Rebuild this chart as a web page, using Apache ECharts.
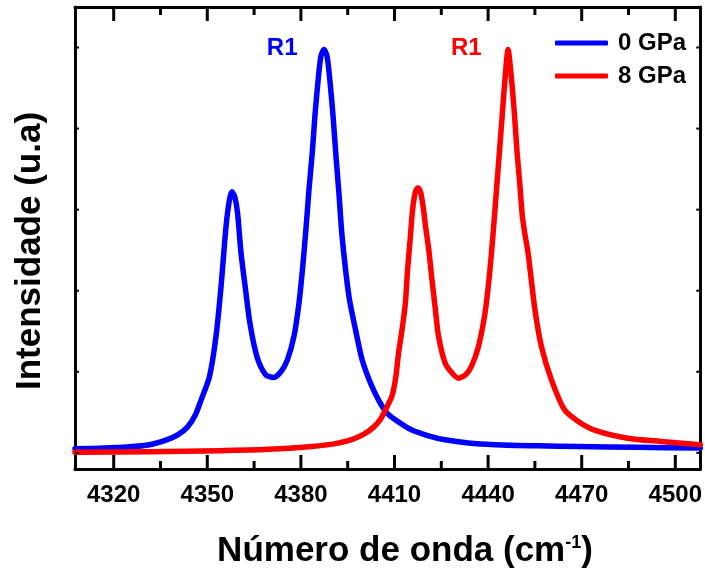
<!DOCTYPE html>
<html>
<head>
<meta charset="utf-8">
<script src="https://cdn.jsdelivr.net/npm/echarts@6/dist/echarts.min.js"></script>
<style>
  html, body { margin: 0; padding: 0; background: #fff; }
  #chart { width: 705px; height: 574px; }
</style>
</head>
<body>
<div id="chart"></div>
<script>
// R-line spectra at two pressures
const seriesNames = ['0 GPa', '8 GPa'];

const waveNumber0 = [4307.6, 4315.6, 4325.2, 4331.5, 4336.3, 4340.5, 4343.7, 4346.2, 4348.0, 4350.7,
  4352.8, 4354.4, 4356.0, 4357.1, 4357.9, 4358.8, 4359.7, 4360.8, 4362.4, 4363.5,
  4365.1, 4366.6, 4368.8, 4371.2, 4373.6, 4375.7, 4377.8, 4379.4, 4380.5, 4381.6,
  4382.6, 4383.7, 4384.5, 4385.5, 4386.4, 4387.4, 4388.4, 4389.3, 4390.3, 4391.2,
  4392.2, 4393.2, 4395.4, 4397.5, 4399.6, 4402.3, 4404.9, 4407.6, 4411.3, 4415.6,
  4420.9, 4426.2, 4433.7, 4442.2, 4456.0, 4468.8, 4487.9, 4508.0];
const intensity0 = [0.05, 0.056, 0.074, 0.10, 0.15, 0.22, 0.32, 0.47, 0.65, 0.94,
  1.44, 2.05, 2.79, 3.12, 3.22, 3.16, 2.96, 2.47, 1.97, 1.64,
  1.31, 1.11, 0.96, 0.93, 1.00, 1.15, 1.44, 1.85, 2.26, 2.75,
  3.25, 3.73, 4.16, 4.59, 4.89, 4.975, 4.89, 4.59, 4.16, 3.68,
  3.20, 2.67, 1.93, 1.52, 1.15, 0.86, 0.65, 0.49, 0.38, 0.28,
  0.21, 0.16, 0.12, 0.10, 0.086, 0.078, 0.068, 0.058];

const waveNumber8 = [4307.6, 4331.5, 4353.9, 4369.8, 4382.6, 4390.6, 4396.0, 4400.2, 4403.4, 4405.6,
  4407.5, 4409.2, 4410.4, 4411.3, 4412.5, 4413.5, 4414.2, 4415.1, 4415.8, 4416.7,
  4417.5, 4418.4, 4419.2, 4420.0, 4421.0, 4422.0, 4423.1, 4424.1, 4426.2, 4428.3,
  4430.5, 4432.7, 4434.7, 4436.9, 4439.0, 4440.1, 4441.1, 4442.0, 4442.7, 4443.6,
  4444.6, 4445.5, 4446.4, 4447.4, 4448.4, 4449.3, 4450.2, 4450.9, 4451.7, 4452.8,
  4455.0, 4457.1, 4460.3, 4464.5, 4468.8, 4474.1, 4484.7, 4495.4, 4508.0];
const intensity8 = [0.006, 0.012, 0.025, 0.043, 0.074, 0.11, 0.16, 0.23, 0.32, 0.42,
  0.56, 0.70, 0.93, 1.23, 1.54, 1.85, 2.26, 2.67, 3.00, 3.22,
  3.27, 3.21, 3.03, 2.78, 2.50, 2.14, 1.77, 1.44, 1.11, 0.99,
  0.92, 0.96, 1.07, 1.31, 1.72, 2.07, 2.47, 2.90, 3.25, 3.70,
  4.20, 4.65, 4.975, 4.65, 4.20, 3.70, 3.30, 2.95, 2.72, 2.47,
  1.77, 1.31, 0.90, 0.53, 0.39, 0.28, 0.18, 0.14, 0.10];

// Peak annotations (wavenumber, intensity)
const peakLabelText = ['R1', 'R1'];
const peakLabelX = [4374, 4433];
const peakLabelY = [4.99, 4.99];

// Axis ticks
const xMajorTicks = [4320, 4350, 4380, 4410, 4440, 4470, 4500];
const xMinorTicks = [4335, 4365, 4395, 4425, 4455, 4485];
const yTicks = [0, 1, 2, 3, 4, 5];

const X_MIN = 4307.6, X_MAX = 4508;
const Y_MIN = -0.2, Y_MAX = 5.5;
const colors = ['#0000ff', '#ff0000'];
const FONT = '"Liberation Sans", Arial, sans-serif';

function zip(xs, ys) { return xs.map((x, i) => [x, ys[i]]); }

function frameAxis(type, position, withLabels) {
  const range = type === 'x' ? { min: X_MIN, max: X_MAX } : { min: Y_MIN, max: Y_MAX };
  return Object.assign({
    type: 'value', position: position,
    axisLine: { show: true, onZero: false, lineStyle: { color: '#000', width: 3 } },
    axisTick: { show: false },
    axisLabel: withLabels ? {
      show: true, customValues: xMajorTicks, margin: 14,
      formatter: v => String(v),
      color: '#000', fontFamily: FONT, fontWeight: 'bold', fontSize: 24
    } : { show: false },
    splitLine: { show: false }
  }, range);
}

const chart = echarts.init(document.getElementById('chart'), null, { renderer: 'canvas' });

const lineSeries = [
  { name: seriesNames[0], data: zip(waveNumber0, intensity0), color: colors[0] },
  { name: seriesNames[1], data: zip(waveNumber8, intensity8), color: colors[1] }
].map((s, i) => ({
  name: s.name,
  type: 'line',
  data: s.data,
  smooth: 0.25,
  symbol: 'none',
  lineStyle: { color: s.color, width: 5.5, join: 'round', cap: 'round' },
  itemStyle: { color: s.color },
  markPoint: {
    symbol: 'circle',
    symbolSize: 0,
    silent: true,
    data: [{
      coord: [peakLabelX[i], peakLabelY[i]],
      label: { show: true, position: 'inside', formatter: peakLabelText[i],
        color: s.color, fontFamily: FONT, fontWeight: 'bold', fontSize: 24 }
    }]
  },
  z: 3 + i
}));

chart.setOption({
  animation: false,
  backgroundColor: '#fff',
  grid: { left: 75, right: 2, top: 7, bottom: 105, containLabel: false },
  xAxis: [frameAxis('x', 'bottom', true), frameAxis('x', 'top', false)],
  yAxis: [frameAxis('y', 'left', false), frameAxis('y', 'right', false)],
  legend: {
    orient: 'vertical',
    left: 550, top: 26,
    itemWidth: 53, itemHeight: 5, itemGap: 9,
    icon: 'roundRect',
    data: seriesNames,
    textStyle: { color: '#000', fontFamily: FONT, fontWeight: 'bold', fontSize: 24,
      padding: [0, 0, 0, 5] }
  },
  graphic: [
    {
      id: 'xTitle', type: 'text', x: 405, y: 551,
      style: {
        text: 'Número de onda (cm{sup|-1})', align: 'center', verticalAlign: 'middle',
        fontFamily: FONT, fontWeight: 'bold', fontSize: 35, fill: '#000',
        rich: { sup: { fontFamily: FONT, fontWeight: 'bold', fontSize: 18, padding: [0, 0, 16, 0] } }
      }
    },
    {
      id: 'yTitle', type: 'text', x: 30, y: 251, rotation: Math.PI / 2,
      style: {
        text: 'Intensidade (u.a)', align: 'center', verticalAlign: 'middle',
        fontFamily: FONT, fontWeight: 'bold', fontSize: 35, fill: '#000'
      }
    }
  ],
  series: lineSeries
});

// Inward tick marks on all four sides, placed through the grid's own scales
const tickMarks = [];
function addTick(id, p, x, y, w, h) {
  tickMarks.push({
    id: id, type: 'rect', z: 20, silent: true,
    shape: { x: p[0] + x, y: p[1] + y, width: w, height: h },
    style: { fill: '#000' }
  });
}
function addXTicks(values, len, tag) {
  values.forEach((v, i) => {
    addTick(tag + 'b' + i, chart.convertToPixel({ gridIndex: 0 }, [v, Y_MIN]), -1.5, -len, 3, len);
    addTick(tag + 't' + i, chart.convertToPixel({ gridIndex: 0 }, [v, Y_MAX]), -1.5, 0, 3, len);
  });
}
addXTicks(xMajorTicks, 14, 'xM');
addXTicks(xMinorTicks, 8, 'xm');
yTicks.forEach((v, i) => {
  addTick('yl' + i, chart.convertToPixel({ gridIndex: 0 }, [X_MIN, v]), 0, -1, 4, 2);
  addTick('yr' + i, chart.convertToPixel({ gridIndex: 0 }, [X_MAX, v]), -4, -1, 4, 2);
});
chart.setOption({ graphic: tickMarks });
</script>
</body>
</html>
